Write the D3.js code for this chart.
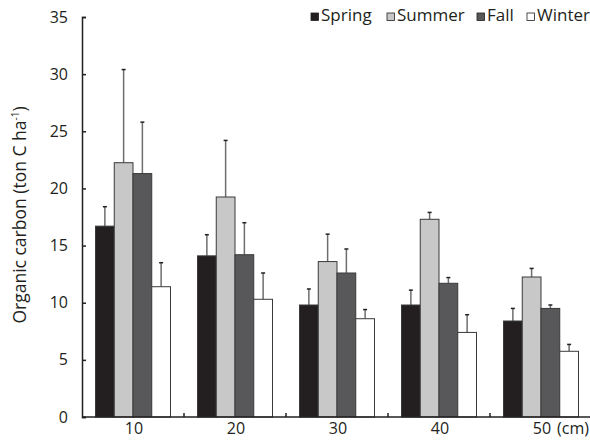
<!DOCTYPE html>
<html>
<head>
<meta charset="utf-8">
<script src="https://cdn.jsdelivr.net/npm/d3@7"></script>
<style>
  body { margin: 0; background: #fff; }
  text { font-family: "Open Sans", "Noto Sans", sans-serif; fill: #231f20; }
</style>
</head>
<body>
<div class="canvas"></div>
<script>
const depths = ['10', '20', '30', '40', '50'];
const seasons = ['Spring', 'Summer', 'Fall', 'Winter'];
const spring = [16.7, 14.1, 9.8, 9.8, 8.4];
const summer = [22.25, 19.25, 13.6, 17.3, 12.25];
const fall = [21.3, 14.2, 12.6, 11.7, 9.5];
const winter = [11.4, 10.3, 8.6, 7.4, 5.75];
const springErr = [1.7, 1.85, 1.4, 1.3, 1.1];
const summerErr = [8.15, 4.95, 2.4, 0.6, 0.75];
const fallErr = [4.5, 2.8, 2.1, 0.5, 0.3];
const winterErr = [2.1, 2.3, 0.8, 1.55, 0.6];
const yTicks = [0, 5, 10, 15, 20, 25, 30, 35];
const colors = ['#231f20', '#c8c8c8', '#58585a', '#ffffff'];

const values = [spring, summer, fall, winter];
const errs = [springErr, summerErr, fallErr, winterErr];

const data = [];
depths.forEach((d, i) => {
  seasons.forEach((s, j) => {
    data.push({ depth: d, season: s, value: values[j][i], err: errs[j][i] });
  });
});

const svg = d3.select('.canvas')
  .append('svg')
  .attr('width', 590)
  .attr('height', 440);

const mLeft = 82, mRight = 590, mTop = 17, mBottom = 417;

const y = d3.scaleLinear()
  .domain([0, 35])
  .range([mBottom, mTop]);

const x = d3.scaleBand()
  .domain(depths)
  .range([mLeft, mLeft + 510]);

const xs = d3.scaleBand()
  .domain(seasons)
  .range([0, x.bandwidth()])
  .paddingOuter(0.72)
  .paddingInner(0);

const color = d3.scaleOrdinal()
  .domain(seasons)
  .range(colors);

// error bars (upward only)
const eb = svg.append('g');
eb.selectAll('line.stem')
  .data(data)
  .enter()
  .append('line')
  .attr('class', 'stem')
  .attr('x1', d => x(d.depth) + xs(d.season) + xs.bandwidth() / 2)
  .attr('x2', d => x(d.depth) + xs(d.season) + xs.bandwidth() / 2)
  .attr('y1', d => y(d.value))
  .attr('y2', d => y(d.value + d.err))
  .attr('stroke', '#6d6e70')
  .attr('stroke-width', 1.5);
eb.selectAll('line.cap')
  .data(data)
  .enter()
  .append('line')
  .attr('class', 'cap')
  .attr('x1', d => x(d.depth) + xs(d.season) + xs.bandwidth() / 2 - 2)
  .attr('x2', d => x(d.depth) + xs(d.season) + xs.bandwidth() / 2 + 2)
  .attr('y1', d => y(d.value + d.err))
  .attr('y2', d => y(d.value + d.err))
  .attr('stroke', '#231f20')
  .attr('stroke-width', 1.5);

// bars
svg.append('g').selectAll('rect')
  .data(data)
  .enter()
  .append('rect')
  .attr('x', d => x(d.depth) + xs(d.season))
  .attr('y', d => y(d.value))
  .attr('width', xs.bandwidth())
  .attr('height', d => mBottom - y(d.value))
  .attr('fill', d => color(d.season))
  .attr('stroke', '#3a3a3a')
  .attr('stroke-width', 1);

// y axis
const yAxis = svg.append('g')
  .attr('transform', `translate(${mLeft},0)`)
  .call(d3.axisLeft(y).tickValues(yTicks).tickSize(-4).tickPadding(14));
yAxis.select('.domain').attr('stroke', '#231f20').attr('stroke-width', 1.5);
yAxis.selectAll('.tick line').attr('stroke', '#231f20').attr('stroke-width', 1.5);
yAxis.selectAll('.tick text').attr('font-size', 16).attr('fill', '#231f20');

// x axis
svg.append('line')
  .attr('x1', mLeft).attr('x2', mRight)
  .attr('y1', mBottom).attr('y2', mBottom)
  .attr('stroke', '#231f20').attr('stroke-width', 1.5);
svg.append('g').selectAll('line')
  .data(depths.slice(1))
  .enter()
  .append('line')
  .attr('x1', d => x(d)).attr('x2', d => x(d))
  .attr('y1', mBottom).attr('y2', mBottom - 4)
  .attr('stroke', '#231f20').attr('stroke-width', 1.5);
svg.append('g').selectAll('text')
  .data(depths)
  .enter()
  .append('text')
  .attr('x', d => x(d) + x.bandwidth() / 2 + 1)
  .attr('y', 434)
  .attr('text-anchor', 'middle')
  .attr('font-size', 16)
  .text(d => d);
svg.append('text')
  .attr('x', 589)
  .attr('y', 434)
  .attr('text-anchor', 'end')
  .attr('font-size', 16)
  .text('(cm)');

// y label
const ylab = svg.append('text')
  .attr('transform', 'translate(26,215) rotate(-90)')
  .attr('text-anchor', 'middle')
  .attr('font-size', 17.5);
ylab.append('tspan').text('Organic carbon (ton C  ha');
ylab.append('tspan').attr('font-size', 10).attr('dy', -7).text('-1');
ylab.append('tspan').attr('dy', 7).text(')');

// legend
const legX = [311, 387, 477, 527];
const leg = svg.append('g').selectAll('g')
  .data(seasons)
  .enter()
  .append('g')
  .attr('transform', (d, i) => `translate(${legX[i]},10)`);
leg.append('rect')
  .attr('width', 7.5).attr('height', 7.5)
  .attr('y', 3)
  .attr('fill', d => color(d))
  .attr('stroke', '#231f20').attr('stroke-width', 0.8);
leg.append('text')
  .attr('x', 10)
  .attr('y', 11)
  .attr('font-size', 17)
  .text(d => d);
</script>
</body>
</html>
